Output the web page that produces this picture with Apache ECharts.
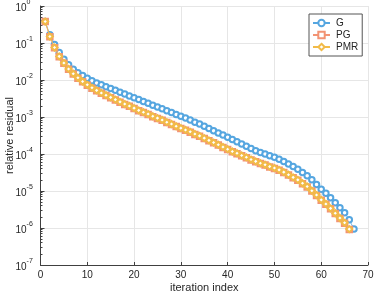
<!DOCTYPE html>
<html>
<head>
<meta charset="utf-8">
<script src="https://cdn.jsdelivr.net/npm/echarts@6/dist/echarts.min.js"></script>
<style>html,body{margin:0;padding:0;background:#fff}#c{width:374px;height:295px}</style>
</head>
<body>
<div id="c"></div>
<script>
const seriesNames = ['G', 'PG', 'PMR'];
const xTicks = [0, 10, 20, 30, 40, 50, 60, 70];
const yTickExponents = [0, -1, -2, -3, -4, -5, -6, -7];

const gValues = [0.380, 0.166, 0.0912, 0.0550, 0.0363, 0.0257, 0.0195, 0.0158, 0.0132, 0.0112,
  0.00955, 0.00832, 0.00741, 0.00661, 0.00589, 0.00525, 0.00468, 0.00417, 0.00372, 0.00331,
  0.00295, 0.00263, 0.00234, 0.00209, 0.00186, 0.00166, 0.00148, 0.00132, 0.00117, 0.00105,
  9.33e-4, 8.32e-4, 7.24e-4, 6.46e-4, 5.62e-4, 4.90e-4, 4.27e-4, 3.72e-4, 3.24e-4, 2.82e-4,
  2.45e-4, 2.14e-4, 1.86e-4, 1.62e-4, 1.41e-4, 1.23e-4, 1.10e-4, 1.00e-4, 8.91e-5, 8.13e-5,
  7.24e-5, 6.31e-5, 5.37e-5, 4.57e-5, 3.89e-5, 3.16e-5, 2.57e-5, 2.00e-5, 1.51e-5, 1.12e-5,
  8.71e-6, 6.61e-6, 4.79e-6, 3.55e-6, 2.57e-6, 1.66e-6, 9.33e-7];

const pgValues = [0.380, 0.148, 0.0741, 0.0427, 0.0282, 0.0195, 0.0145, 0.0112, 0.00891, 0.00724,
  0.00603, 0.00513, 0.00437, 0.00380, 0.00331, 0.00288, 0.00251, 0.00219, 0.00195, 0.00170,
  0.00148, 0.00132, 0.00117, 0.00102, 9.12e-4, 8.13e-4, 7.08e-4, 6.31e-4, 5.50e-4, 4.90e-4,
  4.37e-4, 3.89e-4, 3.39e-4, 3.02e-4, 2.63e-4, 2.29e-4, 2.00e-4, 1.74e-4, 1.51e-4, 1.32e-4,
  1.15e-4, 1.02e-4, 8.91e-5, 7.94e-5, 6.92e-5, 6.17e-5, 5.50e-5, 5.01e-5, 4.47e-5, 4.07e-5,
  3.63e-5, 3.16e-5, 2.69e-5, 2.29e-5, 1.95e-5, 1.58e-5, 1.29e-5, 1.00e-5, 7.59e-6, 5.62e-6,
  4.37e-6, 3.31e-6, 2.45e-6, 1.82e-6, 1.35e-6, 9.12e-7];

const pmrValues = [0.380, 0.150, 0.0755, 0.0435, 0.0288, 0.0199, 0.0148, 0.0115, 0.00912, 0.00741,
  0.00617, 0.00525, 0.00447, 0.00389, 0.00339, 0.00295, 0.00257, 0.00224, 0.00199, 0.00174,
  0.00151, 0.00135, 0.00120, 0.00105, 9.33e-4, 8.32e-4, 7.24e-4, 6.46e-4, 5.62e-4, 5.01e-4,
  4.47e-4, 3.98e-4, 3.47e-4, 3.09e-4, 2.69e-4, 2.34e-4, 2.04e-4, 1.78e-4, 1.55e-4, 1.35e-4,
  1.17e-4, 1.05e-4, 9.12e-5, 8.13e-5, 7.08e-5, 6.31e-5, 5.62e-5, 5.13e-5, 4.57e-5, 4.17e-5,
  3.72e-5, 3.24e-5, 2.75e-5, 2.34e-5, 2.00e-5, 1.62e-5, 1.32e-5, 1.02e-5, 7.76e-6, 5.75e-6,
  4.47e-6, 3.39e-6, 2.51e-6, 1.86e-6, 1.38e-6, 9.33e-7];

const colors = ['#55a6e0', '#f29474', '#f2bb48'];
const symbols = ['emptyCircle', 'emptyRect', 'emptyDiamond'];
const allValues = [gValues, pgValues, pmrValues];

const minorTickValues = [];
for (let e = -7; e < 0; e++) {
  for (let m = 2; m <= 9; m++) minorTickValues.push(m * Math.pow(10, e));
}

const chart = echarts.init(document.getElementById('c'), null, {renderer: 'canvas'});
const textColor = '#262626';
const axisColor = '#404040';
const font = 'Liberation Sans, Arial, Helvetica, sans-serif';
const gridBox = {left: 40.5, right: 6, top: 6, bottom: 30, containLabel: false, outerBoundsMode: 'none'};

chart.setOption({
  animation: false,
  textStyle: {fontFamily: font},
  grid: [Object.assign({}, gridBox), Object.assign({}, gridBox)],
  legend: {
    data: seriesNames,
    orient: 'vertical',
    left: 309,
    top: 14,
    padding: [3, 4, 3, 3],
    itemGap: 0,
    itemWidth: 17,
    itemHeight: 8,
    backgroundColor: '#fff',
    borderColor: '#555',
    borderWidth: 1,
    borderRadius: 0,
    textStyle: {fontSize: 10, lineHeight: 12, color: textColor, fontFamily: font, padding: [0, 0, 0, 1]}
  },
  xAxis: [{
    type: 'value',
    gridIndex: 0,
    min: 0, max: 70, interval: 10,
    name: 'iteration index',
    nameLocation: 'middle',
    nameGap: 17,
    nameMoveOverlap: false,
    nameTextStyle: {fontSize: 11, color: textColor, fontFamily: font},
    axisLine: {show: true, onZero: false, lineStyle: {color: axisColor, width: 1}},
    axisTick: {show: true, inside: true, length: 3, lineStyle: {color: axisColor}},
    axisLabel: {fontSize: 10, color: textColor, margin: 5, fontFamily: font,
      formatter: v => xTicks.includes(v) ? String(v) : ''},
    splitLine: {show: true, lineStyle: {color: '#e6e6e6', width: 1}}
  }, {
    type: 'value', gridIndex: 1, min: 0, max: 70, show: false
  }],
  yAxis: [{
    type: 'log',
    gridIndex: 0,
    logBase: 10,
    min: 1e-7, max: 1,
    name: 'relative residual',
    nameLocation: 'middle',
    nameGap: 25,
    nameMoveOverlap: false,
    nameTextStyle: {fontSize: 11, color: textColor, fontFamily: font},
    axisLine: {show: true, onZero: false, lineStyle: {color: axisColor, width: 1}},
    axisTick: {show: true, inside: true, length: 4, lineStyle: {color: axisColor}},
    axisLabel: {
      margin: 25, align: 'left', color: textColor, fontFamily: font, fontSize: 10,
      formatter: v => {
        const e = Math.round(Math.log10(v));
        return yTickExponents.includes(e) ? '{b|10}{s|' + e + '}' : '';
      },
      rich: {
        b: {fontSize: 10, color: textColor, fontFamily: font, align: 'left', verticalAlign: 'bottom', lineHeight: 14},
        s: {fontSize: 7, color: textColor, fontFamily: font, align: 'left', verticalAlign: 'top', lineHeight: 14}
      }
    },
    splitLine: {show: true, lineStyle: {color: '#e6e6e6', width: 1}}
  }, {
    type: 'log',
    gridIndex: 1,
    logBase: 10,
    min: 1e-7, max: 1,
    position: 'left',
    axisLine: {show: false},
    axisLabel: {show: false},
    splitLine: {show: false},
    axisTick: {show: true, inside: true, length: 2, customValues: minorTickValues, lineStyle: {color: axisColor}}
  }],
  series: seriesNames.map((name, i) => ({
    name: name,
    type: 'line',
    xAxisIndex: 0,
    yAxisIndex: 0,
    data: allValues[i].map((v, k) => [k + 1, v]),
    symbol: symbols[i],
    symbolSize: i === 2 ? 6 : 5.5,
    showSymbol: true,
    lineStyle: {color: colors[i], width: 0.8},
    itemStyle: {color: colors[i], borderWidth: 0.8},
    emphasis: {disabled: true},
    z: 2 + i
  }))
});
</script>
</body>
</html>
